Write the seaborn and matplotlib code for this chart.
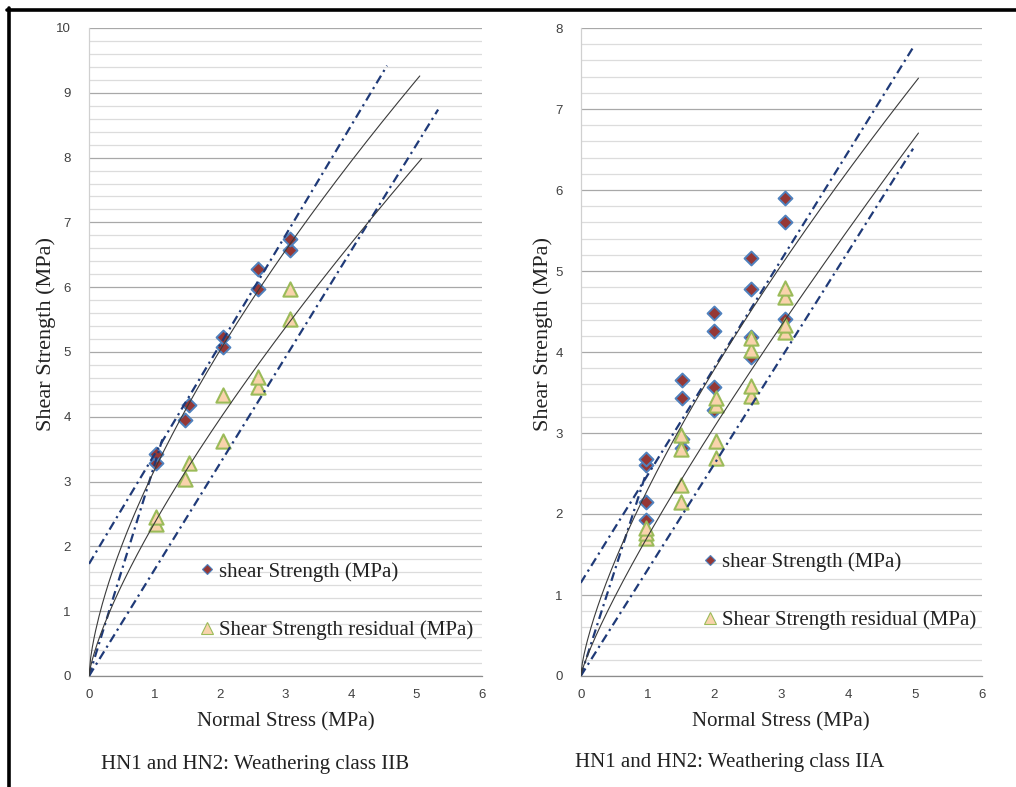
import numpy as np
import pandas as pd
import matplotlib
matplotlib.use("Agg")
import matplotlib.pyplot as plt
import seaborn as sns
from matplotlib.lines import Line2D
from matplotlib.ticker import MultipleLocator

# ---------------- data ----------------
# Left panel: Weathering class IIB
iib_peak_x = [1.02, 1.02, 1.47, 1.53, 2.05, 2.05, 2.575, 2.585, 3.07, 3.07]
iib_peak_y = [3.28, 3.43, 3.95, 4.18, 5.08, 5.23, 5.97, 6.28, 6.58, 6.74]
iib_res_x = [1.02, 1.03, 1.47, 1.53, 2.05, 2.05, 2.575, 2.575, 3.07, 3.07]
iib_res_y = [2.35, 2.46, 3.04, 3.28, 3.63, 4.33, 4.46, 4.62, 5.51, 5.97]

# Right panel: Weathering class IIA
iia_peak_x = [0.98, 0.98, 0.98, 0.98, 1.52, 1.52, 1.52, 1.52, 2.0, 2.0, 2.0, 2.0,
              2.55, 2.55, 2.55, 2.55, 3.05, 3.05, 3.05]
iia_peak_y = [1.93, 2.15, 2.60, 2.675, 2.81, 2.93, 3.43, 3.65, 3.28, 3.57, 4.26, 4.48,
              3.94, 4.19, 4.78, 5.16, 4.41, 5.61, 5.90]
iia_res_x = [0.98, 0.98, 0.98, 1.5, 1.5, 1.5, 1.5, 2.02, 2.02, 2.02, 2.02,
             2.55, 2.55, 2.55, 2.55, 3.05, 3.05, 3.05, 3.05]
iia_res_y = [1.70, 1.76, 1.83, 2.15, 2.36, 2.80, 2.975, 2.69, 2.90, 3.35, 3.43,
             3.46, 3.58, 4.02, 4.17, 4.25, 4.33, 4.68, 4.79]

# Trend / envelope parameters
# linear with cohesion: [intercept, slope, x_end]
iib_lin_upper = [1.73, 1.69, 4.55]
iia_lin_upper = [1.15, 1.33, 4.97]
# steep line through origin: [slope, x_end]
iib_steep = [3.26, 1.12]
iia_steep = [2.56, 0.98]
# line through origin: [slope, x_end]
iib_lin_lower = [1.64, 5.33]
iia_lin_lower = [1.31, 4.97]
# power curves y = a x^b : [a, b, x_end]
iib_pow_peak = [3.18, 0.66, 5.05]
iib_pow_res = [2.36, 0.75, 5.08]
iia_pow_peak = [2.30, 0.72, 5.05]
iia_pow_res = [1.72, 0.84, 5.05]

y_max = [10, 8]
x_ticks = [0, 1, 2, 3, 4, 5, 6]
x_label = "Normal Stress (MPa)"
y_label = "Shear Strength (MPa)"
legend_labels = ["shear Strength (MPa)", "Shear Strength residual (MPa)"]
captions = ["HN1 and HN2: Weathering class IIB", "HN1 and HN2: Weathering class IIA"]

# ---------------- style ----------------
sns.set_theme(style="white")
plt.rcParams["font.family"] = ["Liberation Serif", "DejaVu Serif"]

W, H = 1016, 787
fig = plt.figure(figsize=(W / 100, H / 100), dpi=100)
fig.patch.set_facecolor("white")

axL = fig.add_axes([89 / W, 1 - 676 / H, 393 / W, 648 / H])
axR = fig.add_axes([580.7 / W, 1 - 676 / H, 401.3 / W, 648 / H])

DIAM_FC, DIAM_EC = "#953735", "#4F81BD"
TRI_FC, TRI_EC = "#F9D3AC", "#9BBB59"
NAVY = "#1F3A78"
DARK = "#3a3a3a"
TXT = "#222222"


def style_axis(ax, ymax):
    ax.set_xlim(0, 6)
    ax.set_ylim(0, ymax)
    ax.set_xticks(x_ticks)
    ax.yaxis.set_major_locator(MultipleLocator(1))
    ax.yaxis.set_minor_locator(MultipleLocator(0.2))
    ax.xaxis.grid(False)
    ax.yaxis.grid(True, which="minor", color="#dcdcdc", lw=0.9)
    ax.yaxis.grid(True, which="major", color="#a8a8a8", lw=0.9)
    ax.set_axisbelow(True)
    for s in ["top", "right"]:
        ax.spines[s].set_visible(False)
    ax.spines["bottom"].set_color("#8c8c8c")
    ax.spines["bottom"].set_linewidth(0.9)
    ax.spines["left"].set_color("#d0d0d0")
    ax.spines["left"].set_linewidth(0.9)
    ax.tick_params(axis="both", which="major", direction="out", length=4,
                   width=0.8, color="#8c8c8c", labelsize=9.5, labelcolor="#404040")
    ax.tick_params(axis="y", which="major", pad=9)
    ax.tick_params(axis="x", which="major", pad=5)
    ax.tick_params(which="minor", length=0)
    for lab in ax.get_xticklabels() + ax.get_yticklabels():
        lab.set_family(["Liberation Sans", "DejaVu Sans"])
    ax.set_xlabel("")
    ax.set_ylabel("")


def draw_line(ax, xs, ys, dashed):
    sns.lineplot(x=xs, y=ys, ax=ax, sort=False, estimator=None,
                 color=NAVY if dashed else DARK, lw=1.6 if dashed else 0.8, zorder=4)
    ln = ax.lines[-1]
    if dashed:
        ln.set_dashes((4, 2, 1, 2))


def draw_panel(ax, px, py, rx, ry, lin_up, steep, lin_low, pow_pk, pow_rs):
    sns.scatterplot(x=px, y=py, ax=ax, marker="D", s=50, color=DIAM_FC,
                    edgecolor=DIAM_EC, linewidth=1.4, zorder=3, legend=False)
    sns.scatterplot(x=rx, y=ry, ax=ax, marker="^", s=105, color=TRI_FC,
                    edgecolor=TRI_EC, linewidth=1.5, zorder=3, legend=False)
    # linear with cohesion
    xs = np.linspace(0, lin_up[2], 50)
    draw_line(ax, xs, lin_up[0] + lin_up[1] * xs, True)
    # steep line through origin
    xs = np.linspace(0, steep[1], 20)
    draw_line(ax, xs, steep[0] * xs, True)
    # lower line through origin
    xs = np.linspace(0, lin_low[1], 50)
    draw_line(ax, xs, lin_low[0] * xs, True)
    # power curves
    for p in (pow_pk, pow_rs):
        xs = np.linspace(0, p[2], 200)
        draw_line(ax, xs, p[0] * xs ** p[1], False)


draw_panel(axL, iib_peak_x, iib_peak_y, iib_res_x, iib_res_y,
           iib_lin_upper, iib_steep, iib_lin_lower, iib_pow_peak, iib_pow_res)
draw_panel(axR, iia_peak_x, iia_peak_y, iia_res_x, iia_res_y,
           iia_lin_upper, iia_steep, iia_lin_lower, iia_pow_peak, iia_pow_res)

style_axis(axL, y_max[0])
style_axis(axR, y_max[1])

handles = [
    Line2D([], [], ls="", marker="D", markersize=5, mfc=DIAM_FC, mec=DIAM_EC, mew=0.8),
    Line2D([], [], ls="", marker="^", markersize=8, mfc=TRI_FC, mec=TRI_EC, mew=0.8),
]
for ax, anchor in ((axL, (0.28, 0.116)), (axR, (0.302, 0.131))):
    ax.legend(handles=handles, labels=legend_labels, loc="center left",
              bbox_to_anchor=anchor, frameon=False, fontsize=15,
              labelspacing=1.85, handletextpad=0.15, handlelength=0.8,
              borderpad=0, borderaxespad=0, labelcolor=TXT)

# axis labels and captions
fig.text(286 / W, 1 - 722 / H, x_label, ha="center", va="center", fontsize=15, color=TXT)
fig.text(781 / W, 1 - 722 / H, x_label, ha="center", va="center", fontsize=15, color=TXT)
fig.text(46 / W, 1 - 334 / H, y_label, ha="center", va="center", rotation=90, fontsize=16, color=TXT)
fig.text(543 / W, 1 - 334 / H, y_label, ha="center", va="center", rotation=90, fontsize=16, color=TXT)
fig.text(255 / W, 1 - 764 / H, captions[0], ha="center", va="center", fontsize=15, color=TXT)
fig.text(730 / W, 1 - 762 / H, captions[1], ha="center", va="center", fontsize=15, color=TXT)

# thick frame (top and left)
fig.add_artist(Line2D([7 / W, 1.0], [1 - 9.5 / H, 1 - 9.5 / H], transform=fig.transFigure,
                      color="black", lw=2.6))
fig.add_artist(Line2D([8.5 / W, 8.5 / W], [0, 1 - 8 / H], transform=fig.transFigure,
                      color="black", lw=2.6))

fig.savefig("out.png", dpi=100, facecolor="white")
